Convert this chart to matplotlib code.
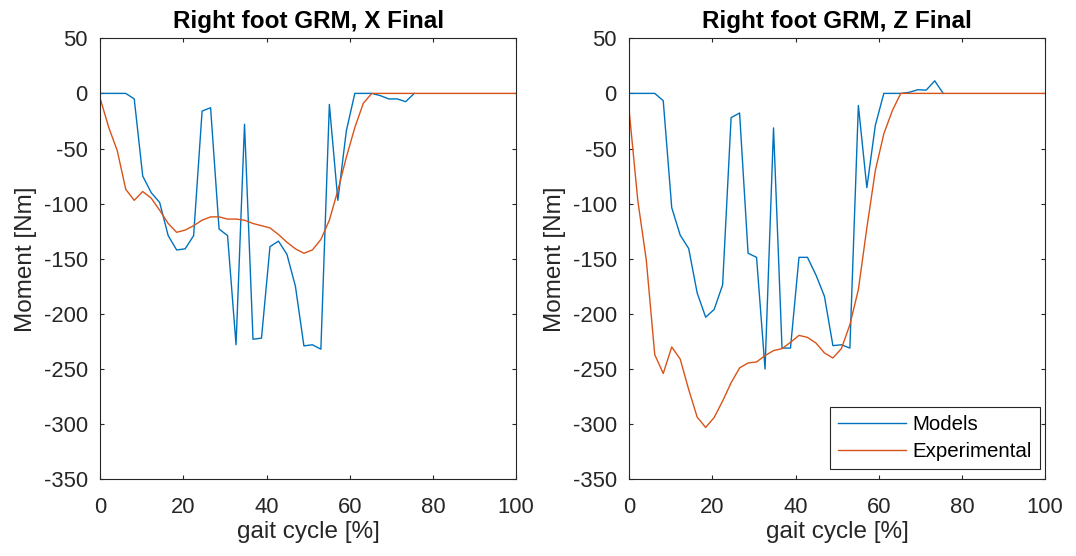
import numpy as np
import matplotlib
matplotlib.use("Agg")
import matplotlib.pyplot as plt

plt.rcParams['font.family'] = ['Liberation Sans', 'DejaVu Sans']
plt.rcParams['axes.unicode_minus'] = False

# gait cycle sampled at 50 points (0..100 %)
gait = np.linspace(0, 100, 50)

# models (blue) only reach ~75 % of the cycle
models_x = [0, 0, 0, 0, -5, -75, -90, -99, -129, -142,
            -141, -129, -16, -13, -123, -129, -228, -28, -223, -222,
            -139, -134, -146, -175, -229, -228, -232, -10, -97, -34,
            0, 0, 0, -2, -5, -5, -7.5, 0]
exp_x = [-5, -31, -52, -87, -97, -89, -95, -106, -118, -126,
         -124, -120, -115, -112, -112, -114, -114, -115, -118, -120,
         -122, -128, -135, -141, -145, -142, -132.5, -115, -88, -58,
         -31, -9, 0, 0, 0, 0, 0, 0, 0, 0,
         0, 0, 0, 0, 0, 0, 0, 0, 0, 0]

models_z = [0, 0, 0, 0, -6.6, -103.6, -128.6, -140.7, -181, -203,
            -196, -173.7, -22, -17.8, -145, -148.7, -250, -31.3, -231, -231,
            -148.7, -148.7, -164.7, -184, -228.8, -228, -231, -11, -85.5, -29,
            0, 0, 0, 1, 3.3, 3, 11.4, 0]
exp_z = [-17, -97, -151, -237, -254, -230, -241, -268.6, -293.6, -303,
         -294, -279, -262.5, -249, -244.5, -243.6, -237.8, -233.3, -231.5, -225.8,
         -219.5, -221.3, -226.4, -235.4, -240, -231.5, -209.8, -178, -122, -70,
         -36.7, -15.7, 0, 0, 0, 0, 0, 0, 0, 0,
         0, 0, 0, 0, 0, 0, 0, 0, 0, 0]

titles = ["Right foot GRM, X Final", "Right foot GRM, Z Final"]
series = [(models_x, exp_x), (models_z, exp_z)]

blue = "#0072BD"
orange = "#D95319"
dark = "#262626"

fig = plt.figure(figsize=(10.76, 5.56), dpi=100)
lefts = [100.3 / 1076, 629.3 / 1076]

for k in range(2):
    ax = fig.add_axes([lefts[k], 0.138, 415.7 / 1076, 441 / 556])
    mod, exp = series[k]
    ax.plot(gait[:len(mod)], mod, color=blue, lw=1.0, label="Models")
    ax.plot(gait, exp, color=orange, lw=1.0, label="Experimental")
    ax.set_xlim(0, 100)
    ax.set_ylim(-350, 50)
    ax.set_xticks(np.arange(0, 101, 20))
    ax.set_yticks(np.arange(-350, 51, 50))
    ax.tick_params(direction='in', length=3, width=0.8, colors=dark,
                   labelsize=15.8, top=True, right=True)
    ax.tick_params(axis='x', pad=13)
    ax.tick_params(axis='y', pad=9)
    for s in ax.spines.values():
        s.set_color(dark)
        s.set_linewidth(0.8)
    ax.set_title(titles[k], fontsize=17.5, fontweight='bold', pad=7.5)
    ax.set_xlabel("gait cycle [%]", fontsize=17.5, color=dark, labelpad=2)
    ax.set_ylabel("Moment [Nm]", fontsize=17.5, color=dark, labelpad=5)
    if k == 1:
        leg = ax.legend(loc='lower right', bbox_to_anchor=(0.988, 0.0234),
                        borderaxespad=0, fontsize=14.8, fancybox=False,
                        framealpha=1, edgecolor=dark, handlelength=3.3,
                        handletextpad=0.3, labelspacing=0.38, borderpad=0.4)
        leg.get_frame().set_linewidth(0.8)

plt.savefig("out.png", dpi=100)
